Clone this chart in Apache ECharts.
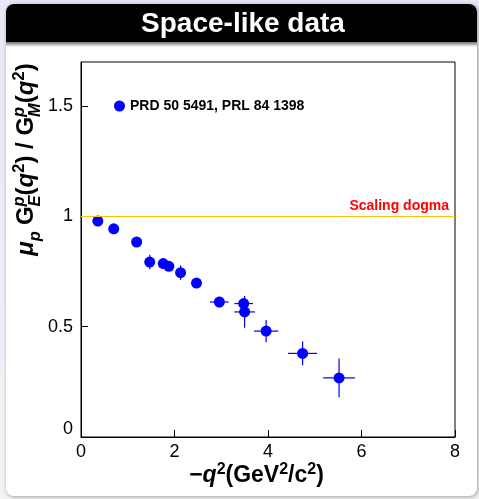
<!DOCTYPE html>
<html><head><meta charset="utf-8">
<script src="https://cdn.jsdelivr.net/npm/echarts@6/dist/echarts.min.js"></script>
<style>html,body{margin:0;padding:0;background:#fff}#c{width:479px;height:499px}</style>
</head><body><div id="c"></div><script>
// ---- data ----
const qSquared    = [0.36, 0.70, 1.19, 1.47, 1.76, 1.88, 2.13, 2.47, 2.96, 3.48, 3.50, 3.96, 4.74, 5.52];
const ratio       = [0.979, 0.944, 0.884, 0.793, 0.786, 0.774, 0.745, 0.698, 0.612, 0.605, 0.567, 0.480, 0.379, 0.268];
const qSquaredErr = [0.02, 0.02, 0.03, 0.04, 0.04, 0.04, 0.05, 0.06, 0.20, 0.20, 0.22, 0.26, 0.31, 0.34];
const ratioErr    = [0.010, 0.010, 0.012, 0.033, 0.015, 0.015, 0.033, 0.015, 0.024, 0.025, 0.072, 0.050, 0.054, 0.088];
const xTicks = [0, 2, 4, 6, 8];
const yTicks = [0, 0.5, 1, 1.5];
const scalingValue = [1];
const legendLabel = 'PRD 50 5491, PRL 84 1398';
const scalingLabel = 'Scaling dogma';
const blockTitle = 'Space-like data';

const FAM = '"Liberation Sans", Arial, Helvetica, sans-serif';
const points = qSquared.map((x, i) => [x, ratio[i], qSquaredErr[i], ratioErr[i]]);

// build a small math-like text run out of graphic text pieces
function buildMath(tokens, ox, oy, rotation) {
  const ctx = document.createElement('canvas').getContext('2d');
  const fontStr = t => (t.italic ? 'italic ' : '') + 'bold ' + t.size + 'px ' + FAM;
  const items = [];
  let x = 0;
  tokens.forEach(t => {
    const parts = t.stack || [t];
    let adv = 0;
    parts.forEach(p => {
      const f = fontStr(p);
      ctx.font = f;
      const w = ctx.measureText(p.text).width;
      items.push({ x: x, y: (p.shift || 0) - 0.3465 * p.size, text: p.text, font: f });
      adv = Math.max(adv, w);
    });
    x += adv + (t.gap || 0);
  });
  const W = x;
  return {
    type: 'group', x: ox, y: oy, rotation: rotation || 0, silent: true,
    children: items.map(it => ({
      type: 'text', x: it.x - W / 2, y: it.y,
      style: { text: it.text, font: it.font, fill: '#000', align: 'left', verticalAlign: 'middle' }
    }))
  };
}

const M = 23, S = 16, UP = -9;
const xTitle = buildMath([
  { text: '\u2212', size: M },
  { text: 'q', size: M, italic: true },
  { text: '2', size: S, shift: UP },
  { text: '(GeV', size: M },
  { text: '2', size: S, shift: UP },
  { text: '/c', size: M },
  { text: '2', size: S, shift: UP },
  { text: ')', size: M }
], 256.5, 484, 0);

const YM = 24, YS = 16.5, YUP = -10, YDN = 6;
const yTitle = buildMath([
  { text: '\u03bc', size: YM, italic: true },
  { text: 'p', size: YS, italic: true, shift: YDN, gap: 6 },
  { text: 'G', size: YM },
  { stack: [{ text: 'p', size: YS, italic: true, shift: YUP }, { text: 'E', size: YS, italic: true, shift: YDN }] },
  { text: '(', size: YM },
  { text: 'q', size: YM, italic: true },
  { text: '2', size: YS, shift: YUP },
  { text: ') / ', size: YM },
  { text: 'G', size: YM },
  { stack: [{ text: 'p', size: YS, italic: true, shift: YUP }, { text: 'M', size: YS, italic: true, shift: YDN }] },
  { text: '(', size: YM },
  { text: 'q', size: YM, italic: true },
  { text: '2', size: YS, shift: YUP },
  { text: ')', size: YM }
], 35, 159.5, Math.PI / 2);

const chart = echarts.init(document.getElementById('c'), null, { renderer: 'canvas' });
chart.setOption({
  animation: false,
  backgroundColor: {
    type: 'linear', x: 0, y: 0, x2: 0, y2: 1,
    colorStops: [{ offset: 0, color: '#e7e7f6' }, { offset: 1, color: '#f3f3f5' }]
  },
  graphic: [
    { type: 'rect', z: -10, silent: true, shape: { x: 6, y: 4, width: 471, height: 492, r: 8 },
      style: { fill: '#ffffff', shadowBlur: 4, shadowColor: 'rgba(0,0,0,0.35)', shadowOffsetX: 1, shadowOffsetY: 1 } },
    { type: 'rect', z: -9, silent: true, shape: { x: 6, y: 4, width: 471, height: 38, r: [8, 8, 0, 0] },
      style: { fill: '#000000' } },
    { type: 'rect', z: -9, silent: true, shape: { x: 6, y: 42, width: 471, height: 5 },
      style: { fill: { type: 'linear', x: 0, y: 0, x2: 0, y2: 1,
        colorStops: [{ offset: 0, color: 'rgba(0,0,0,0.55)' }, { offset: 1, color: 'rgba(0,0,0,0)' }] } } },
    { type: 'text', z: -8, silent: true, x: 243, y: 24,
      style: { text: blockTitle, font: 'bold 28px ' + FAM, fill: '#ffffff', align: 'center', verticalAlign: 'middle' } },
    xTitle,
    yTitle
  ],
  grid: { left: 81, right: 24, top: 62, bottom: 62, show: true, borderColor: '#000', borderWidth: 1,
    backgroundColor: 'transparent', containLabel: false, outerBoundsMode: 'none' },
  legend: {
    data: [legendLabel], left: 114, top: 99, icon: 'circle', itemWidth: 11, itemHeight: 11,
    padding: 0, itemGap: 0, selectedMode: false,
    textStyle: { fontFamily: FAM, fontWeight: 'bold', fontSize: 14, color: '#000' }
  },
  xAxis: {
    type: 'value', min: xTicks[0], max: xTicks[xTicks.length - 1], interval: xTicks[1] - xTicks[0],
    axisLine: { show: true, onZero: false, lineStyle: { color: '#000', width: 1 } },
    axisTick: { show: true, inside: true, length: 7, lineStyle: { color: '#000', width: 1 } },
    splitLine: { show: false },
    axisLabel: { fontFamily: FAM, fontSize: 18, color: '#000', margin: 6 }
  },
  yAxis: {
    type: 'value', min: yTicks[0], max: 1.7, interval: yTicks[1] - yTicks[0],
    axisLine: { show: true, onZero: false, lineStyle: { color: '#000', width: 1 } },
    axisTick: { show: true, inside: true, length: 7, lineStyle: { color: '#000', width: 1 } },
    splitLine: { show: false },
    axisLabel: {
      fontFamily: FAM, fontSize: 18, color: '#000', margin: 8, showMaxLabel: false,
      formatter: v => (v === 0 ? '{z|0}' : String(v)),
      rich: { z: { fontFamily: FAM, fontSize: 18, color: '#000', padding: [0, 0, 16, 0] } }
    }
  },
  series: [
    {
      type: 'custom', name: 'errors', silent: true, z: 2,
      data: points, encode: { x: 0, y: 1 },
      renderItem: function (params, api) {
        const x = api.value(0), y = api.value(1), ex = api.value(2), ey = api.value(3);
        const l = api.coord([x - ex, y]), r = api.coord([x + ex, y]);
        const t = api.coord([x, y + ey]), b = api.coord([x, y - ey]);
        return { type: 'group', children: [
          { type: 'line', shape: { x1: l[0], y1: l[1], x2: r[0], y2: r[1] }, style: { stroke: '#0000ff', lineWidth: 1.2 } },
          { type: 'line', shape: { x1: t[0], y1: t[1], x2: b[0], y2: b[1] }, style: { stroke: '#0000ff', lineWidth: 1.2 } }
        ] };
      }
    },
    {
      type: 'scatter', name: legendLabel, z: 3,
      data: points.map(p => [p[0], p[1]]),
      symbol: 'circle', symbolSize: 11,
      itemStyle: { color: '#0000ff', opacity: 1 },
      markLine: {
        silent: true, symbol: 'none', animation: false,
        lineStyle: { color: '#f4c600', width: 1, type: 'solid' },
        label: { show: true, position: 'insideEndTop', formatter: scalingLabel, color: '#ff0000',
          fontFamily: FAM, fontWeight: 'bold', fontSize: 14, distance: [6, 3] },
        data: scalingValue.map(v => ({ yAxis: v }))
      }
    }
  ]
});
</script></body></html>
